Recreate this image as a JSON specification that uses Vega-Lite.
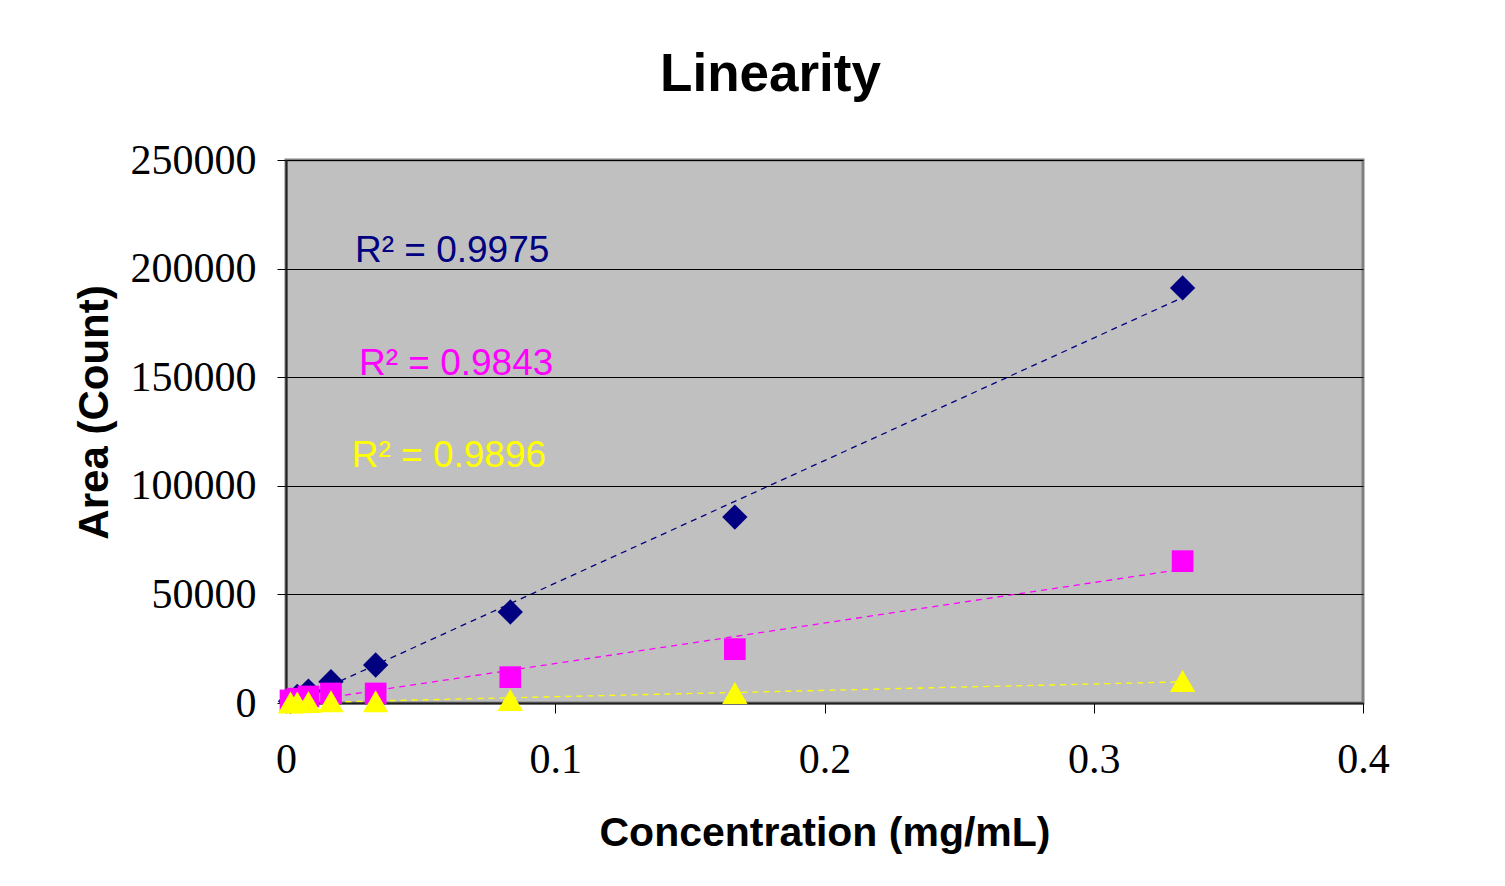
{
  "$schema": "https://vega.github.io/schema/vega-lite/v6.json",
  "width": 1077,
  "height": 543,
  "autosize": {"type": "none"},
  "padding": {"left": 286, "top": 160, "right": 142, "bottom": 183},
  "background": "white",
  "title": {
    "text": "Linearity",
    "font": "Liberation Sans",
    "fontSize": 53,
    "fontWeight": "bold",
    "color": "black",
    "anchor": "middle",
    "frame": "group",
    "dx": -54,
    "offset": 37
  },
  "config": {
    "view": {"fill": "#C0C0C0", "stroke": "#808080", "strokeWidth": 3},
    "axis": {
      "labelFont": "Liberation Serif",
      "labelFontSize": 42,
      "labelColor": "black",
      "titleFont": "Liberation Sans",
      "titleFontWeight": "bold",
      "titleFontSize": 41,
      "titleColor": "black",
      "tickColor": "black",
      "domainColor": "#202020",
      "domainWidth": 2
    }
  },
  "datasets": {
    "points": [
      {"conc": 0.00167, "area": 800, "series": "A"},
      {"conc": 0.00417, "area": 3000, "series": "A"},
      {"conc": 0.00833, "area": 5500, "series": "A"},
      {"conc": 0.0167, "area": 9800, "series": "A"},
      {"conc": 0.0333, "area": 17500, "series": "A"},
      {"conc": 0.0833, "area": 41900, "series": "A"},
      {"conc": 0.1667, "area": 85600, "series": "A"},
      {"conc": 0.333, "area": 191100, "series": "A"},
      {"conc": 0.00167, "area": 1200, "series": "B"},
      {"conc": 0.00417, "area": 2000, "series": "B"},
      {"conc": 0.00833, "area": 3000, "series": "B"},
      {"conc": 0.0167, "area": 4400, "series": "B"},
      {"conc": 0.0333, "area": 4400, "series": "B"},
      {"conc": 0.0833, "area": 11900, "series": "B"},
      {"conc": 0.1667, "area": 24800, "series": "B"},
      {"conc": 0.333, "area": 65300, "series": "B"},
      {"conc": 0.00167, "area": 200, "series": "C"},
      {"conc": 0.00417, "area": 300, "series": "C"},
      {"conc": 0.00833, "area": 400, "series": "C"},
      {"conc": 0.0167, "area": 800, "series": "C"},
      {"conc": 0.0333, "area": 800, "series": "C"},
      {"conc": 0.0833, "area": 1400, "series": "C"},
      {"conc": 0.1667, "area": 4600, "series": "C"},
      {"conc": 0.333, "area": 10100, "series": "C"}
    ],
    "labels": [
      {"conc": 0.0256, "area": 203000, "series": "A", "label": "R² = 0.9975"},
      {"conc": 0.0271, "area": 151000, "series": "B", "label": "R² = 0.9843"},
      {"conc": 0.0244, "area": 108700, "series": "C", "label": "R² = 0.9896"}
    ]
  },
  "encoding": {
    "x": {
      "field": "conc",
      "type": "quantitative",
      "scale": {"domain": [0, 0.4], "nice": false, "zero": true},
      "axis": {
        "title": "Concentration (mg/mL)",
        "values": [0, 0.1, 0.2, 0.3, 0.4],
        "format": "~g",
        "grid": false,
        "tickSize": 10,
        "labelPadding": 26,
        "titlePadding": 33,
        "labelFlush": false
      }
    },
    "y": {
      "field": "area",
      "type": "quantitative",
      "scale": {"domain": [0, 250000], "nice": false},
      "axis": {
        "title": "Area (Count)",
        "values": [0, 50000, 100000, 150000, 200000, 250000],
        "format": "d",
        "grid": true,
        "gridColor": "black",
        "gridWidth": 1,
        "tickSize": 9,
        "labelPadding": 21,
        "titlePadding": 14,
        "titleFontSize": 42,
        "titleY": 252,
        "labelFlush": false
      }
    },
    "color": {
      "field": "series",
      "type": "nominal",
      "scale": {"domain": ["A", "B", "C"], "range": ["#000080", "#FF00FF", "#FFFF00"]},
      "legend": null
    }
  },
  "layer": [
    {
      "data": {"name": "points"},
      "transform": [
        {"regression": "area", "on": "conc", "groupby": ["series"], "method": "linear"}
      ],
      "mark": {"type": "line", "strokeWidth": 1.3, "strokeDash": [6, 5]}
    },
    {
      "data": {"name": "points"},
      "mark": {"type": "point", "filled": true, "opacity": 1},
      "encoding": {
        "shape": {
          "field": "series",
          "type": "nominal",
          "scale": {"domain": ["A", "B", "C"], "range": ["diamond", "square", "triangle-up"]},
          "legend": null
        },
        "size": {
          "field": "series",
          "type": "nominal",
          "scale": {"type": "ordinal", "domain": ["A", "B", "C"], "range": [640, 470, 640]},
          "legend": null
        }
      }
    },
    {
      "data": {"name": "labels"},
      "mark": {"type": "text", "align": "left", "baseline": "alphabetic", "font": "Liberation Sans", "fontSize": 37},
      "encoding": {"text": {"field": "label"}}
    }
  ]
}
